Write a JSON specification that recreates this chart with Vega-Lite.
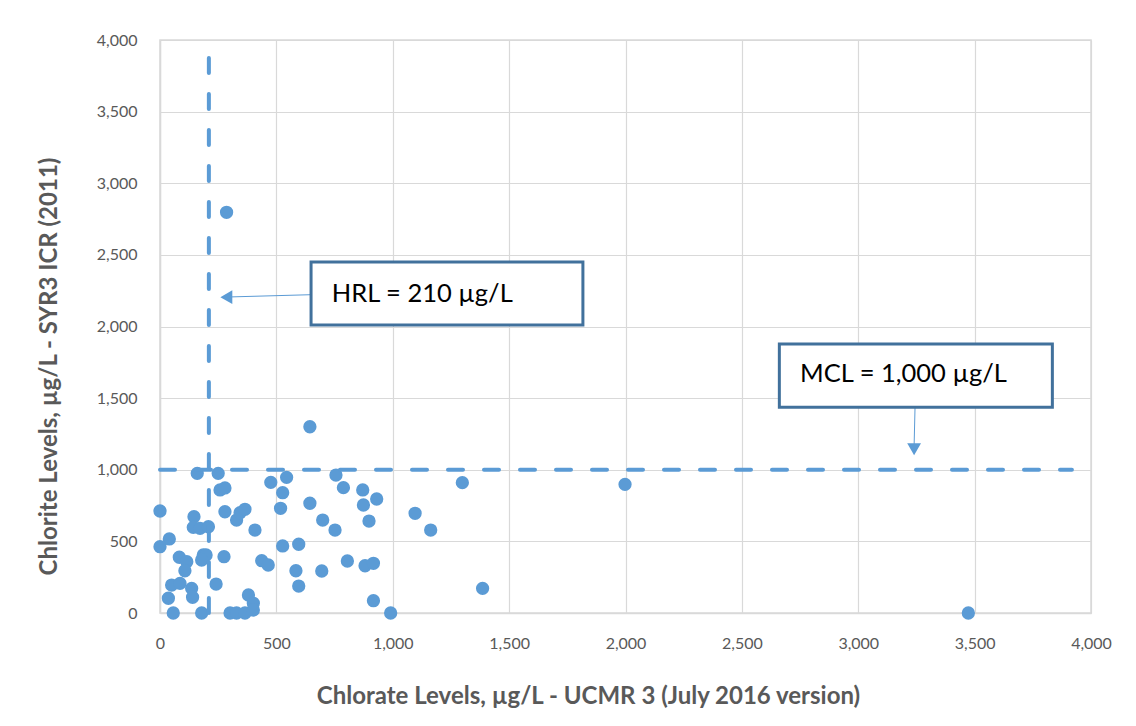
{
  "$schema": "https://vega.github.io/schema/vega-lite/v6.json",
  "width": 931,
  "height": 573,
  "autosize": "none",
  "padding": {"left": 160, "top": 40, "right": 45, "bottom": 113},
  "background": "white",
  "config": {
    "font": "Lato",
    "view": {"stroke": "#D9D9D9", "strokeWidth": 1.5},
    "axis": {
      "gridColor": "#D9D9D9",
      "gridWidth": 1.2,
      "domainColor": "#D9D9D9",
      "domainWidth": 1.5,
      "ticks": false,
      "labelFlush": false,
      "labelFont": "Lato",
      "labelFontSize": 16,
      "labelColor": "#595959",
      "titleFont": "Lato",
      "titleFontSize": 24,
      "titleFontWeight": "bold",
      "titleColor": "#595959"
    }
  },
  "datasets": {
    "points": [
      {"chlorate": 0, "chlorite": 712}, {"chlorate": 40, "chlorite": 517}, {"chlorate": 0, "chlorite": 463},
      {"chlorate": 160, "chlorite": 975}, {"chlorate": 250, "chlorite": 975}, {"chlorate": 258, "chlorite": 859},
      {"chlorate": 279, "chlorite": 873}, {"chlorate": 146, "chlorite": 672}, {"chlorate": 143, "chlorite": 598},
      {"chlorate": 172, "chlorite": 591}, {"chlorate": 208, "chlorite": 602}, {"chlorate": 279, "chlorite": 707},
      {"chlorate": 329, "chlorite": 649}, {"chlorate": 344, "chlorite": 700}, {"chlorate": 365, "chlorite": 724},
      {"chlorate": 408, "chlorite": 579}, {"chlorate": 476, "chlorite": 912}, {"chlorate": 544, "chlorite": 947},
      {"chlorate": 527, "chlorite": 840}, {"chlorate": 518, "chlorite": 731}, {"chlorate": 644, "chlorite": 766},
      {"chlorate": 699, "chlorite": 649}, {"chlorate": 752, "chlorite": 579}, {"chlorate": 83, "chlorite": 389},
      {"chlorate": 115, "chlorite": 358}, {"chlorate": 186, "chlorite": 405}, {"chlorate": 198, "chlorite": 405},
      {"chlorate": 179, "chlorite": 370}, {"chlorate": 275, "chlorite": 393}, {"chlorate": 437, "chlorite": 365},
      {"chlorate": 465, "chlorite": 335}, {"chlorate": 107, "chlorite": 295}, {"chlorate": 50, "chlorite": 195},
      {"chlorate": 86, "chlorite": 207}, {"chlorate": 136, "chlorite": 172}, {"chlorate": 140, "chlorite": 110},
      {"chlorate": 241, "chlorite": 202}, {"chlorate": 36, "chlorite": 103}, {"chlorate": 57, "chlorite": 0},
      {"chlorate": 179, "chlorite": 0}, {"chlorate": 301, "chlorite": 0}, {"chlorate": 329, "chlorite": 0},
      {"chlorate": 365, "chlorite": 0}, {"chlorate": 380, "chlorite": 126}, {"chlorate": 401, "chlorite": 68},
      {"chlorate": 401, "chlorite": 21}, {"chlorate": 527, "chlorite": 468}, {"chlorate": 596, "chlorite": 480},
      {"chlorate": 584, "chlorite": 295}, {"chlorate": 695, "chlorite": 293}, {"chlorate": 596, "chlorite": 188},
      {"chlorate": 644, "chlorite": 1300}, {"chlorate": 756, "chlorite": 963}, {"chlorate": 788, "chlorite": 875},
      {"chlorate": 871, "chlorite": 859}, {"chlorate": 931, "chlorite": 796}, {"chlorate": 874, "chlorite": 754},
      {"chlorate": 898, "chlorite": 642}, {"chlorate": 1096, "chlorite": 696}, {"chlorate": 1163, "chlorite": 579},
      {"chlorate": 1299, "chlorite": 910}, {"chlorate": 805, "chlorite": 363}, {"chlorate": 881, "chlorite": 330},
      {"chlorate": 917, "chlorite": 347}, {"chlorate": 917, "chlorite": 86}, {"chlorate": 991, "chlorite": 0},
      {"chlorate": 1386, "chlorite": 172}, {"chlorate": 1998, "chlorite": 898}, {"chlorate": 3473, "chlorite": 0},
      {"chlorate": 286, "chlorite": 2797}
    ],
    "limits": [
      {"name": "MCL", "x": 0, "x2": 3918, "y": 1000, "y2": 1000},
      {"name": "HRL", "x": 210, "x2": 210, "y": 0, "y2": 3880}
    ],
    "arrows": [
      {"name": "HRL", "x": 649, "x2": 292, "y": 2222, "y2": 2206},
      {"name": "MCL", "x": 3244, "x2": 3240, "y": 1436, "y2": 1170}
    ],
    "heads": [
      {"name": "HRL", "x": 285, "y": 2205, "shape": "triangle-left"},
      {"name": "MCL", "x": 3240, "y": 1143, "shape": "triangle-down"}
    ],
    "boxes": [
      {"name": "HRL", "x": 649, "x2": 1817, "y": 2450, "y2": 2010, "label": "HRL = 210 µg/L", "tx": 738, "ty": 2173},
      {"name": "MCL", "x": 2661, "x2": 3834, "y": 1878, "y2": 1436, "label": "MCL = 1,000 µg/L", "tx": 2750, "ty": 1615}
    ]
  },
  "encoding": {
    "x": {
      "type": "quantitative",
      "scale": {"domain": [0, 4000], "nice": false},
      "axis": {
        "values": [0, 500, 1000, 1500, 2000, 2500, 3000, 3500, 4000],
        "format": ",.0f",
        "labelPadding": 22,
        "title": "Chlorate Levels, µg/L - UCMR 3 (July 2016 version)",
        "titleX": 428,
        "titleY": 90,
        "titleAlign": "center",
        "titleBaseline": "alphabetic",
        "titleAnchor": null
      }
    },
    "y": {
      "type": "quantitative",
      "scale": {"domain": [0, 4000], "nice": false},
      "axis": {
        "values": [0, 500, 1000, 1500, 2000, 2500, 3000, 3500, 4000],
        "format": ",.0f",
        "labelPadding": 23,
        "title": "Chlorite Levels, µg/L - SYR3 ICR (2011)",
        "titleX": -104,
        "titleY": 326,
        "titleAngle": -90,
        "titleAlign": "center",
        "titleBaseline": "alphabetic",
        "titleAnchor": null
      }
    }
  },
  "layer": [
    {
      "data": {"name": "points"},
      "mark": {"type": "point", "shape": "circle", "filled": true, "size": 177, "color": "#5B9BD5", "opacity": 1},
      "encoding": {"x": {"field": "chlorate"}, "y": {"field": "chlorite"}}
    },
    {
      "data": {"name": "limits"},
      "mark": {"type": "rule", "color": "#5B9BD5", "strokeWidth": 4, "strokeDash": [15, 21], "strokeCap": "round"},
      "encoding": {"x": {"field": "x"}, "x2": {"field": "x2"}, "y": {"field": "y"}, "y2": {"field": "y2"}}
    },
    {
      "data": {"name": "arrows"},
      "mark": {"type": "rule", "color": "#5B9BD5", "strokeWidth": 1},
      "encoding": {"x": {"field": "x"}, "x2": {"field": "x2"}, "y": {"field": "y"}, "y2": {"field": "y2"}}
    },
    {
      "data": {"name": "heads"},
      "mark": {"type": "point", "filled": true, "size": 190, "color": "#5B9BD5", "opacity": 1},
      "encoding": {"x": {"field": "x"}, "y": {"field": "y"}, "shape": {"field": "shape", "type": "nominal", "scale": null}}
    },
    {
      "data": {"name": "boxes"},
      "mark": {"type": "rect", "fill": "white", "stroke": "#41719C", "strokeWidth": 3},
      "encoding": {"x": {"field": "x"}, "x2": {"field": "x2"}, "y": {"field": "y"}, "y2": {"field": "y2"}}
    },
    {
      "data": {"name": "boxes"},
      "mark": {"type": "text", "align": "left", "baseline": "alphabetic", "font": "Lato", "fontSize": 25.5, "color": "#000000"},
      "encoding": {"x": {"field": "tx"}, "y": {"field": "ty"}, "text": {"field": "label"}}
    }
  ]
}
